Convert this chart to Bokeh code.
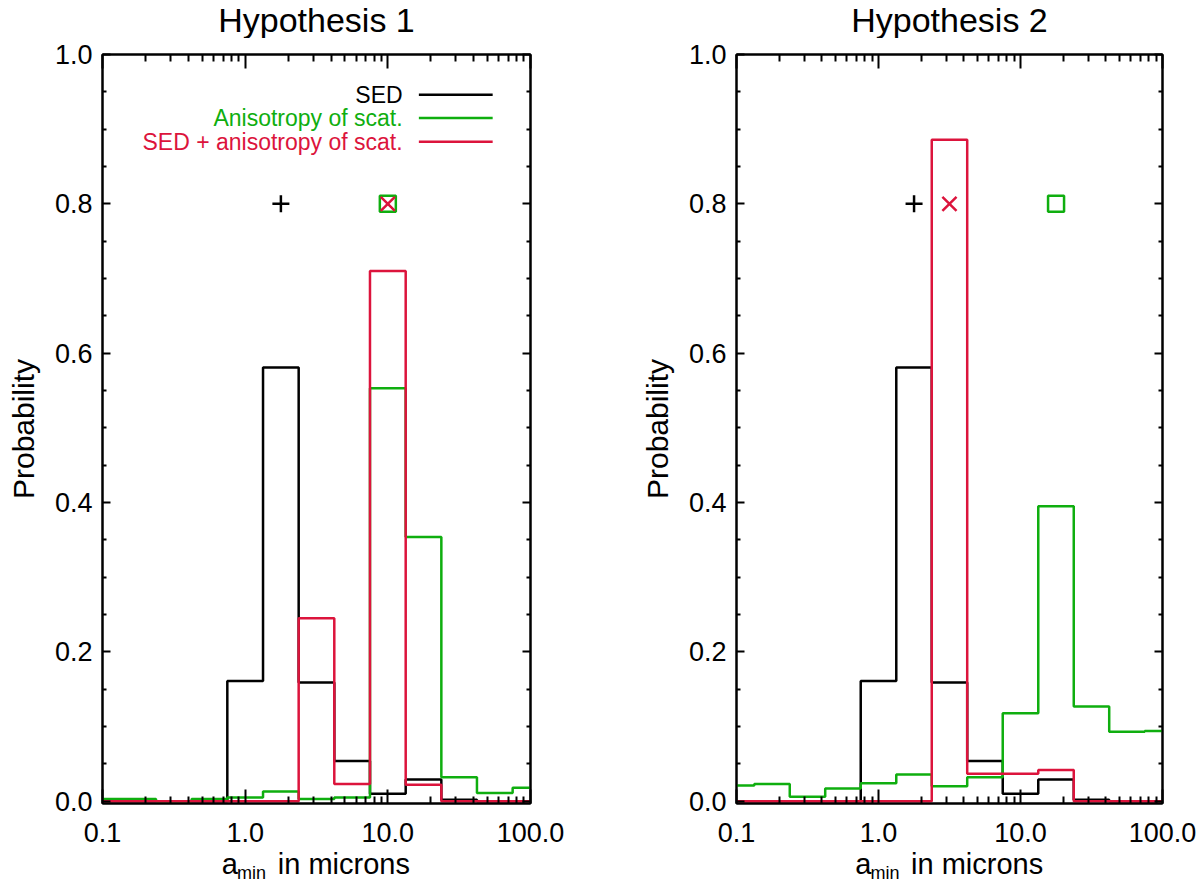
from bokeh.plotting import figure
from bokeh.layouts import row, column
from bokeh.models import (Range1d, FixedTicker, LogAxis, LinearAxis,
                          PrintfTickFormatter, CustomJSTickFormatter)
from bokeh.core.properties import value
from bokeh.embed import file_html
from bokeh.resources import INLINE

# bin centres of a_min (microns), log-spaced
a_min = [0.1, 0.178, 0.316, 0.562, 1.0, 1.78, 3.16, 5.62, 10.0, 17.8, 31.6, 56.2, 100.0]

# Hypothesis 1
h1_sed = [0.0, 0.0, 0.0, 0.0, 0.161, 0.581, 0.159, 0.054, 0.010, 0.029, 0.002, 0.0, 0.0]
h1_aniso = [0.003, 0.003, 0.0, 0.003, 0.005, 0.013, 0.003, 0.005, 0.553, 0.354, 0.032, 0.011, 0.018]
h1_comb = [0.0, 0.0, 0.0, 0.0, 0.0, 0.0, 0.245, 0.023, 0.710, 0.022, 0.0, 0.0, 0.0]
h1_best = {"sed": 1.78, "aniso": 10.0, "comb": 10.0}

# Hypothesis 2
h2_sed = [0.0, 0.0, 0.0, 0.0, 0.161, 0.581, 0.159, 0.054, 0.010, 0.029, 0.002, 0.0, 0.0]
h2_aniso = [0.021, 0.023, 0.006, 0.017, 0.024, 0.036, 0.020, 0.032, 0.118, 0.395, 0.127, 0.093, 0.094]
h2_comb = [0.0, 0.0, 0.0, 0.0, 0.0, 0.0, 0.886, 0.037, 0.037, 0.042, 0.0, 0.0, 0.0]
h2_best = {"sed": 1.78, "aniso": 17.8, "comb": 3.16}

best_y = 0.8
legend_names = ["SED", "Anisotropy of scat.", "SED + anisotropy of scat."]

FONT = "Liberation Sans"
BLACK = "black"
GREEN = "#0fae0f"
RED = "#dc143c"

x_ticks = [0.1, 1.0, 10.0, 100.0]
x_minor = [m * d for d in (0.1, 1.0, 10.0) for m in range(2, 10)]
y_ticks = [0.0, 0.2, 0.4, 0.6, 0.8, 1.0]
y_minor = [round(0.05 * k, 2) for k in range(21) if k % 4]


def style_axis(ax, tick_in, minor_in, labels=True):
    ax.axis_line_width = 2
    ax.axis_line_color = "black"
    ax.major_tick_line_width = 2
    ax.minor_tick_line_width = 2
    ax.major_tick_line_color = "black"
    ax.minor_tick_line_color = "black"
    ax.major_tick_in = tick_in
    ax.major_tick_out = 0
    ax.minor_tick_in = minor_in
    ax.minor_tick_out = 0
    ax.major_label_text_font = FONT
    ax.major_label_text_color = "black"
    if labels:
        ax.major_label_text_font_size = "27px"
    else:
        ax.formatter = CustomJSTickFormatter(code="return ''")
        ax.major_label_text_font_size = "1px"
        ax.major_label_standoff = 0


def strip(x_range, height, b_left, b_right, f_width):
    # blank figure used to hold text outside the plot frame
    s = figure(x_axis_type="log", x_range=x_range, y_range=Range1d(0, height),
               frame_width=f_width, frame_height=height,
               min_border_left=b_left, min_border_right=b_right,
               min_border_top=0, min_border_bottom=0,
               toolbar_location=None, output_backend="svg")
    s.axis.visible = False
    s.grid.visible = False
    s.outline_line_color = None
    return s


def make_panel(title, sed, aniso, comb, best, b_left, b_right, f_width, legend=False):
    p = figure(x_axis_type="log", x_range=Range1d(0.1, 100), y_range=Range1d(-0.003, 1.0),
               frame_width=f_width, frame_height=749,
               min_border_left=b_left, min_border_right=b_right,
               min_border_top=16, min_border_bottom=43,
               toolbar_location=None, output_backend="svg")
    p.xgrid.visible = False
    p.ygrid.visible = False
    p.outline_line_color = "black"
    p.outline_line_width = 2

    xt = FixedTicker(ticks=x_ticks, minor_ticks=x_minor)
    yt = FixedTicker(ticks=y_ticks, minor_ticks=y_minor)

    p.xaxis.ticker = xt
    p.xaxis.formatter = PrintfTickFormatter(format="%.1f")
    style_axis(p.xaxis[0], 14, 7)
    p.xaxis.major_label_standoff = 19

    p.yaxis.ticker = yt
    p.yaxis.formatter = PrintfTickFormatter(format="%.1f")
    style_axis(p.yaxis[0], 8, 4)
    p.yaxis.major_label_standoff = 10
    p.yaxis.axis_label = "Probability"
    p.yaxis.axis_label_text_font = FONT
    p.yaxis.axis_label_text_font_size = "30px"
    p.yaxis.axis_label_text_font_style = "normal"
    p.yaxis.axis_label_text_color = "black"
    p.yaxis.axis_label_standoff = 12

    top = LogAxis(ticker=xt)
    style_axis(top, 14, 7, labels=False)
    p.add_layout(top, "above")
    right = LinearAxis(ticker=yt)
    style_axis(right, 8, 4, labels=False)
    p.add_layout(right, "right")

    # histograms (IDL psym=10 style steps)
    p.step(a_min, sed, mode="center", line_color=BLACK, line_width=2.5)
    p.step(a_min, aniso, mode="center", line_color=GREEN, line_width=2.5)
    p.step(a_min, comb, mode="center", line_color=RED, line_width=2.5)

    # best values
    p.scatter([best["sed"]], [best_y], marker="cross", size=17, line_color=BLACK, line_width=2.5)
    p.scatter([best["aniso"]], [best_y], marker="square", size=16, fill_color=None,
              line_color=GREEN, line_width=2.5)
    p.scatter([best["comb"]], [best_y], marker="x", size=20, line_color=RED, line_width=2.5)

    if legend:
        leg_y = [0.946, 0.915, 0.883]
        for name, col, yy in zip(legend_names, [BLACK, GREEN, RED], leg_y):
            p.text(x=[12.7], y=[yy], text=[name], text_align="right", text_baseline="middle",
                   text_color=col, text_font=value(FONT), text_font_size="23px")
            p.segment(x0=[16.5], y0=[yy], x1=[54.3], y1=[yy], line_color=col, line_width=2.5)

    # title strip above the panel
    tf = strip(p.x_range, 38, b_left, b_right, f_width)
    tf.text(x=[3.162], y=[19], text=[title], text_align="center", text_baseline="middle",
            text_font=value(FONT), text_font_size="34px", text_color="black")

    # x axis label (a_min in microns) in a strip below the panel
    lf = strip(p.x_range, 37, b_left, b_right, f_width)
    lf.text(x=[0.686], y=[20], text=["a"], text_font=value(FONT), text_font_size="29px",
            text_baseline="middle")
    lf.text(x=[0.877], y=[10.3], text=["min"], text_font=value(FONT), text_font_size="18px",
            text_baseline="middle")
    lf.text(x=[1.694], y=[20], text=["in microns"], text_font=value(FONT),
            text_font_size="29px", text_baseline="middle")
    return column(tf, p, lf)


c1 = make_panel("Hypothesis 1", h1_sed, h1_aniso, h1_comb, h1_best, 102, 100, 428, legend=True)
c2 = make_panel("Hypothesis 2", h2_sed, h2_aniso, h2_comb, h2_best, 106, 38, 426)

layout = row(c1, c2)
open("out.html", "w").write(file_html(layout, INLINE))
